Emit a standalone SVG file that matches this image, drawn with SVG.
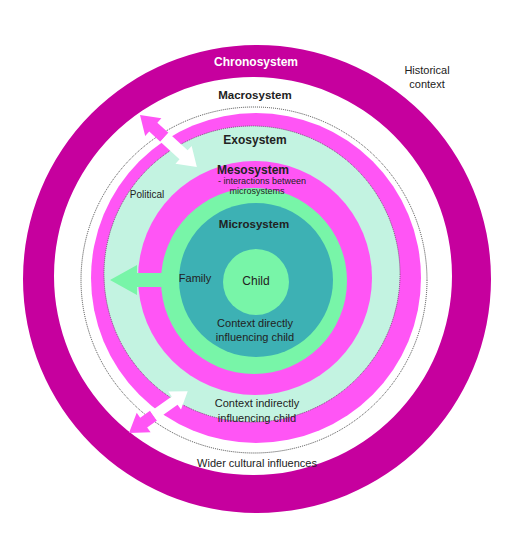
<svg xmlns="http://www.w3.org/2000/svg" width="512" height="539" viewBox="0 0 512 539">
<style>
text{font-family:"Liberation Sans",Arial,sans-serif;fill:#222;text-anchor:middle}
.b{font-weight:bold}
.mag{fill:#FF55F5}
.dot{fill:none;stroke:#333;stroke-width:0.9;stroke-dasharray:1 1}
</style>
<rect width="512" height="539" fill="#fff"/>
<g id="chronosystem">
<path d="M23,279a234,234 0 1,0 468,0a234,234 0 1,0 -468,0Z M54,276a199,199 0 1,0 398,0a199,199 0 1,0 -398,0Z" fill="#C6009E" fill-rule="evenodd"/>
<text x="256" y="66" class="b" font-size="12" style="fill:#fff">Chronosystem</text>
<text x="427" y="74" font-size="11">Historical</text>
<text x="427" y="88" font-size="11">context</text>
</g>
<g id="macrosystem">
<circle cx="254" cy="280" r="173" class="dot"/>
<text x="255" y="99" class="b" font-size="11.5">Macrosystem</text>
<text x="257" y="467" font-size="11">Wider cultural influences</text>
</g>
<g id="exosystem">
<circle cx="256" cy="278" r="165" class="mag"/>
<circle cx="252" cy="274" r="148" fill="#C3F3E1" stroke="#555" stroke-width="0.8" stroke-dasharray="1 1"/>
<text x="255" y="144" class="b" font-size="12">Exosystem</text>
<text x="147" y="198" font-size="10">Political</text>
<text x="257" y="407" font-size="11">Context indirectly</text>
<text x="257" y="422" font-size="11">influencing child</text>
</g>
<g id="mesosystem">
<circle cx="255" cy="278" r="117" class="mag"/>
</g>
<g id="microsystem">
<circle cx="254" cy="281" r="93" fill="#78F5A8"/>
<circle cx="256" cy="280" r="77" fill="#3DB1B4"/>
</g>
<g id="connectors">
<polygon points="110,280 137,265 137,273 162,273 162,287 137,287 137,295" fill="#78F5A8"/>
<g transform="translate(140,115) rotate(42.4)">
<polygon points="0,0 18,-12 18,-6 33,-6 33,6 18,6 18,12" class="mag"/>
<polygon points="77,0 59,-12 59,-6 33,-6 33,6 59,6 59,12" fill="#fff"/>
</g>
<g transform="translate(129,433) rotate(-35.4)">
<polygon points="0,0 18,-12 18,-6 30,-6 30,6 18,6 18,12" class="mag"/>
<polygon points="72,0 56,-11 56,-5 30,-5 30,5 56,5 56,11" fill="#fff"/>
</g>
</g>
<g id="mesosystem-label">
<text x="253" y="174" class="b" font-size="12">Mesosystem</text>
<text x="262" y="184" font-size="9">- interactions between</text>
<text x="257" y="194" font-size="9">microsystems</text>
</g>
<g id="microsystem-label">
<text x="254" y="228" class="b" font-size="11.5">Microsystem</text>
<text x="195" y="282" font-size="11">Family</text>
<text x="255" y="327" font-size="11">Context directly</text>
<text x="255" y="341" font-size="11">influencing child</text>
</g>
<g id="child">
<circle cx="256" cy="282" r="33" fill="#78F5A8"/>
<text x="256" y="285" font-size="12">Child</text>
</g>
</svg>
